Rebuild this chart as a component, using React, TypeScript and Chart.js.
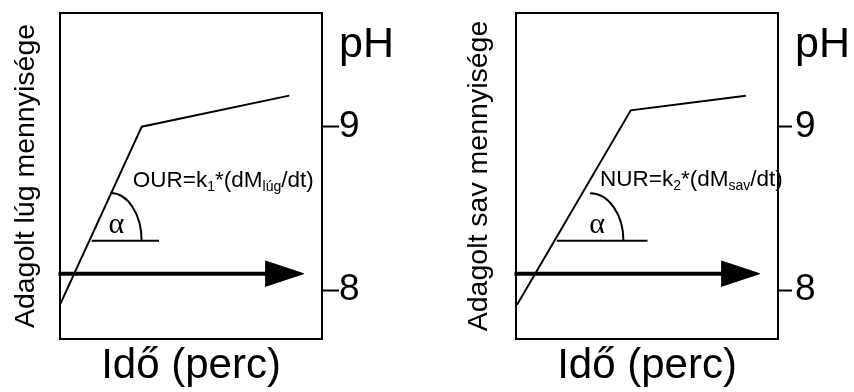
import React, { useEffect, useRef } from "react";
import { Chart, registerables } from "chart.js";

Chart.register(...registerables);

const SANS = "'Liberation Sans', Arial, Helvetica, sans-serif";
const SERIF = "'Liberation Serif', 'Times New Roman', serif";

// Time axis in arbitrary units (0..100 across the panel)
const timeLug = [0, 31.2, 87.5];
const phLug = [7.91, 9.0, 9.19];
const timeSav = [0.4, 43.8, 87.7];
const phSav = [7.91, 9.1, 9.19];

const phTickValues = [8, 9];
const phLabelAt = 9.5;
const phMin = 7.7;
const phMax = 9.696;

const arrowTime = [-0.6, 80];
const arrowHeadTime = [78.3, 93];
const arrowPh = 8.1;
const arrowHalfHeightPh = 0.078;

const angleLinePh = 8.302;
const angleLineLug = [12.1, 37.8];
const angleLineSav = [15.6, 50.2];

type Part = [string, boolean];

type Panel = {
  yTitle: string;
  time: number[];
  ph: number[];
  angleLine: number[];
  arc: { cx: number; rx: number; ry: number };
  alpha: [number, number];
  formula: { x: number; y: number; parts: Part[] };
  leftWidth: number;
  rightWidth: number;
  tickLength: number;
  tickPadding: number;
  yTitlePad: number;
};

const panels: Panel[] = [
  {
    yTitle: "Adagolt lúg mennyisége",
    time: timeLug,
    ph: phLug,
    angleLine: angleLineLug,
    arc: { cx: 19.3, rx: 11.85, ry: 0.292 },
    alpha: [18.5, 8.347],
    formula: {
      x: 27.8,
      y: 8.629,
      parts: [
        ["OUR=k", false],
        ["1", true],
        ["*(dM", false],
        ["lúg", true],
        ["/dt)", false],
      ],
    },
    leftWidth: 60,
    rightWidth: 105,
    tickLength: 17,
    tickPadding: 0,
    yTitlePad: 9,
  },
  {
    yTitle: "Adagolt sav mennyisége",
    time: timeSav,
    ph: phSav,
    angleLine: angleLineSav,
    arc: { cx: 28.3, rx: 12.7, ry: 0.29 },
    alpha: [28.0, 8.347],
    formula: {
      x: 32.1,
      y: 8.637,
      parts: [
        ["NUR=k", false],
        ["2", true],
        ["*(dM", false],
        ["sav", true],
        ["/dt)", false],
      ],
    },
    leftWidth: 89,
    rightWidth: 76,
    tickLength: 14,
    tickPadding: 3,
    yTitlePad: 35.4,
  },
];

function makeAnnotPlugin(p: Panel) {
  return {
    id: "annot",
    afterDatasetsDraw(chart: any) {
      const { ctx } = chart;
      const x = chart.scales.x;
      const y = chart.scales.y;
      ctx.save();
      // angle arc
      const cx = x.getPixelForValue(p.arc.cx);
      const cy = y.getPixelForValue(angleLinePh);
      const rx = x.getPixelForValue(p.arc.cx + p.arc.rx) - cx;
      const ry = cy - y.getPixelForValue(angleLinePh + p.arc.ry);
      ctx.beginPath();
      ctx.ellipse(cx, cy, rx, ry, 0, -Math.PI / 2, 0);
      ctx.lineWidth = 2;
      ctx.strokeStyle = "#000";
      ctx.stroke();
      // alpha
      ctx.fillStyle = "#000";
      ctx.textAlign = "left";
      ctx.textBaseline = "alphabetic";
      ctx.font = `30px ${SERIF}`;
      ctx.fillText("α", x.getPixelForValue(p.alpha[0]), y.getPixelForValue(p.alpha[1]));
      // formula
      let px = x.getPixelForValue(p.formula.x);
      const py = y.getPixelForValue(p.formula.y);
      for (const [t, sub] of p.formula.parts) {
        ctx.font = sub ? `14px ${SANS}` : `22.5px ${SANS}`;
        ctx.fillText(t, px, py + (sub ? 4 : 0));
        px += ctx.measureText(t).width;
      }
      ctx.restore();
    },
  };
}

function noPad(s: any) {
  s.paddingTop = 0;
  s.paddingBottom = 0;
  s.paddingLeft = 0;
  s.paddingRight = 0;
}

function PanelChart({ p }: { p: Panel }) {
  const ref = useRef<HTMLCanvasElement | null>(null);
  useEffect(() => {
    if (!ref.current) return;
    const border = { display: true, color: "#000", width: 2 };
    const chart = new Chart(ref.current, {
      type: "line",
      data: {
        datasets: [
          {
            data: p.time.map((t, i) => ({ x: t, y: p.ph[i] })),
            borderColor: "#000",
            borderWidth: 2,
            pointRadius: 0,
            fill: false,
            tension: 0,
          },
          {
            data: p.angleLine.map((t) => ({ x: t, y: angleLinePh })),
            borderColor: "#000",
            borderWidth: 2,
            pointRadius: 0,
            fill: false,
          },
          {
            data: arrowTime.map((t) => ({ x: t, y: arrowPh })),
            borderColor: "#000",
            borderWidth: 4,
            pointRadius: 0,
            fill: false,
            clip: false,
          },
          {
            data: [
              { x: arrowHeadTime[0], y: arrowPh + arrowHalfHeightPh },
              { x: arrowHeadTime[1], y: arrowPh },
              { x: arrowHeadTime[0], y: arrowPh - arrowHalfHeightPh },
            ],
            borderColor: "#000",
            backgroundColor: "#000",
            borderWidth: 1,
            pointRadius: 0,
            fill: "shape",
          },
        ] as any,
      },
      options: {
        animation: false,
        responsive: false,
        devicePixelRatio: 1,
        events: [],
        layout: { padding: { top: 13, left: 0, right: 0, bottom: 0 } },
        plugins: { legend: { display: false }, tooltip: { enabled: false } },
        scales: {
          x: {
            type: "linear",
            position: "bottom",
            min: 0,
            max: 100,
            ticks: { display: false },
            grid: { display: false },
            border,
            title: {
              display: true,
              text: "Idő (perc)",
              color: "#000",
              font: { family: SANS, size: 42, lineHeight: 1.2 },
              padding: { top: 0, bottom: 0 },
            },
            afterFit: (s: any) => {
              s.height = 53;
              noPad(s);
            },
          },
          xTop: {
            type: "linear",
            position: "top",
            min: 0,
            max: 100,
            ticks: { display: false },
            grid: { display: false },
            border,
            afterFit: (s: any) => {
              s.height = 0;
              noPad(s);
            },
          },
          y: {
            type: "linear",
            position: "left",
            min: phMin,
            max: phMax,
            ticks: { display: false },
            grid: { display: false },
            border,
            title: {
              display: true,
              text: p.yTitle,
              color: "#000",
              font: { family: SANS, size: 28.5, lineHeight: 1.2 },
              padding: { top: p.yTitlePad, bottom: 0 },
            },
            afterFit: (s: any) => {
              s.width = p.leftWidth;
              noPad(s);
            },
          },
          yR: {
            type: "linear",
            position: "right",
            min: phMin,
            max: phMax,
            afterBuildTicks: (s: any) => {
              s.ticks = [...phTickValues, phLabelAt].map((v) => ({ value: v }));
            },
            ticks: {
              color: "#000",
              padding: p.tickPadding,
              autoSkip: false,
              font: (c: any) =>
                c.tick && c.tick.value === phLabelAt
                  ? { family: SANS, size: 43 }
                  : { family: SANS, size: 37 },
              callback: (v: any) => (v === phLabelAt ? "pH" : String(v)),
            },
            grid: {
              display: true,
              drawOnChartArea: false,
              drawTicks: true,
              tickLength: p.tickLength,
              tickWidth: 2,
              tickColor: (c: any) =>
                c.tick && c.tick.value === phLabelAt ? "rgba(0,0,0,0)" : "#000",
            },
            border,
            afterFit: (s: any) => {
              s.width = p.rightWidth;
              noPad(s);
            },
          },
        } as any,
      },
      plugins: [makeAnnotPlugin(p)],
    });
    return () => chart.destroy();
  }, [p]);
  return (
    <div style={{ width: 427, height: 392 }}>
      <canvas ref={ref} width={427} height={392} style={{ display: "block" }} />
    </div>
  );
}

export default function App() {
  return (
    <div
      style={{
        position: "absolute",
        left: 0,
        top: 0,
        width: 854,
        height: 392,
        display: "flex",
        background: "#fff",
      }}
    >
      {panels.map((p, i) => (
        <PanelChart key={i} p={p} />
      ))}
    </div>
  );
}
